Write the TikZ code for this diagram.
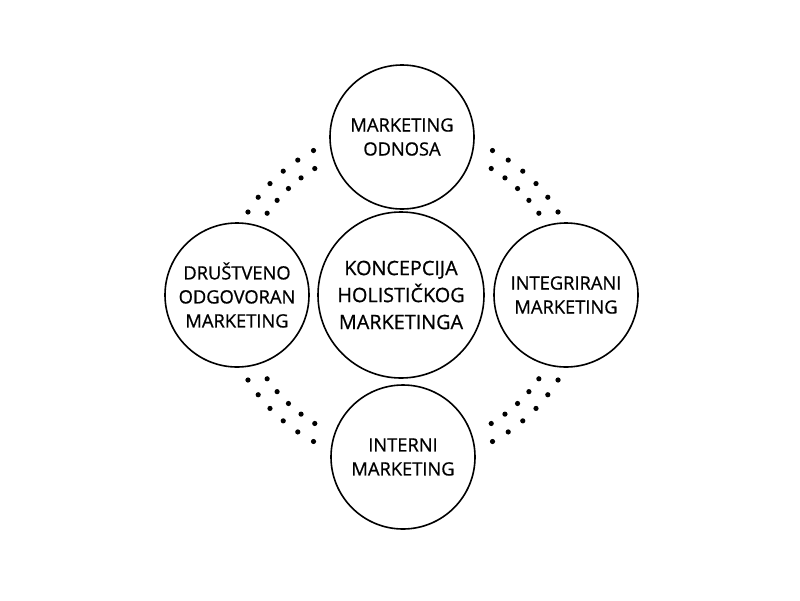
\documentclass[tikz,border=0pt]{standalone}
\usepackage{fontspec}
\setmainfont[FakeBold=0.8]{Open Sans}

\tikzset{every picture/.style={line width=0.75pt}}
\tikzset{
krug/.style={draw, circle, line width=1.6pt, minimum size=144pt, inner sep=0pt, align=center, font=\fontsize{18.3}{24}\selectfont},
veliki krug/.style={krug, minimum size=166pt, font=\fontsize{19.8}{27}\selectfont},
tocka/.style={fill=black}}

\begin{document}
\begin{tikzpicture}[x=1pt,y=1pt,yscale=-1,xscale=1]
\useasboundingbox (0,0) rectangle (800,600);

%Shape: Circle (middle)
\node[veliki krug] (holisticki) at (401,295) {KONCEPCIJA\\HOLISTIČKOG\\MARKETINGA};
%Shape: Circle (top)
\node[krug] (odnosa) at (402,137) {MARKETING\\ODNOSA};
%Shape: Circle (left)
\node[krug] (drustveno) at (237,295) {DRUŠTVENO\\ODGOVORAN\\MARKETING};
%Shape: Circle (right)
\node[krug] (integrirani) at (566,295) {INTEGRIRANI\\MARKETING};
%Shape: Circle (bottom)
\node[krug] (interni) at (403,457) {INTERNI\\MARKETING};

%Dots between the outer circles
\foreach \q in {0,90,180,270}{
  \foreach \a in {30,36,...,60}
    \fill[tocka, shift={(403,296)}] (\q+\a:179 and 168) circle (2.6pt);
  \foreach \a in {33,39,...,57}
    \fill[tocka, shift={(403,296)}] (\q+\a:162 and 152) circle (2.6pt);
}

\end{tikzpicture}
\end{document}
